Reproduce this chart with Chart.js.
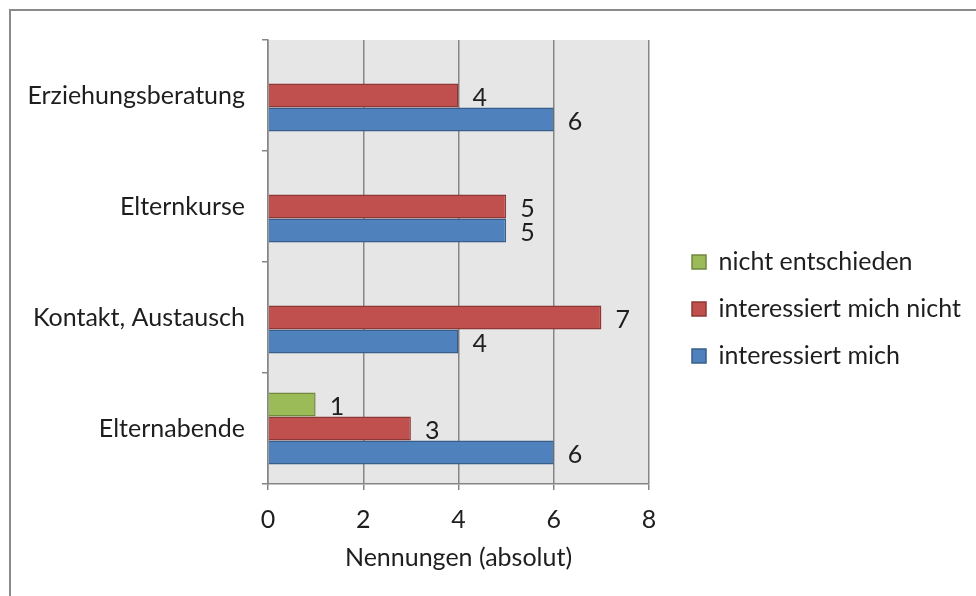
<!DOCTYPE html>
<html>
<head>
<meta charset="utf-8">
<script src="https://cdn.jsdelivr.net/npm/chart.js@4.4.1/dist/chart.umd.min.js"></script>
<style>
  html, body { margin: 0; padding: 0; background: #fff; overflow: hidden; }
  #wrap { position: relative; width: 976px; height: 596px; }
  #frame { position: absolute; left: 9px; top: 9px; width: 1000px; height: 640px;
           border-left: 2px solid #8a8a8a; border-top: 2px solid #8a8a8a; }
  canvas { position: absolute; left: 0; top: 0; }
</style>
</head>
<body>
<div id="wrap">
  <div id="frame"></div>
  <canvas id="chart" width="976" height="596"></canvas>
</div>
<script>
// Kategorien und Werte (von oben nach unten)
const categories = ['Erziehungsberatung', 'Elternkurse', 'Kontakt, Austausch', 'Elternabende'];
const nichtEntschieden = [null, null, null, 1];
const interessiertNicht = [4, 5, 7, 3];
const interessiert = [6, 5, 4, 6];
const seriesNames = ['nicht entschieden', 'interessiert mich nicht', 'interessiert mich'];
const xMax = 8;
const xStep = 2;
const axisTitle = 'Nennungen (absolut)';

const FONT = { family: 'Lato', size: 25 };
const GRID = '#868686';
const TEXT = '#1e1e1e';
const LEGEND_W = 327;

// grauer Hintergrund im Plotbereich
const plotBg = {
  id: 'plotBg',
  beforeDraw(chart) {
    const { ctx, chartArea: a } = chart;
    ctx.save();
    ctx.fillStyle = '#e6e6e6';
    ctx.fillRect(a.left, a.top, a.right - a.left, a.bottom - a.top);
    ctx.restore();
  }
};

// Legende breiter als das Standard-Limit, etwas nach rechts gerückt
const legendWidth = {
  id: 'legendWidth',
  beforeLayout(chart) {
    const lg = chart.legend;
    if (!lg || lg._fixedWidth) return;
    const fit = lg.fit;
    lg.fit = function () { fit.call(this); this.width = LEGEND_W; };
    lg._fixedWidth = true;
  },
  afterLayout(chart) {
    const lg = chart.legend;
    if (!lg) return;
    lg.left += 21;
    lg.right += 21;
    lg.top -= 3;
    lg.bottom -= 3;
  }
};

// Werte rechts neben den Balken
const valueLabels = {
  id: 'valueLabels',
  afterDatasetsDraw(chart) {
    const ctx = chart.ctx;
    ctx.save();
    ctx.font = FONT.size + 'px ' + FONT.family;
    ctx.fillStyle = TEXT;
    ctx.textAlign = 'left';
    ctx.textBaseline = 'middle';
    chart.data.datasets.forEach((ds, i) => {
      chart.getDatasetMeta(i).data.forEach((bar, j) => {
        const v = ds.data[j];
        if (v == null) return;
        ctx.fillText(String(v), bar.x + 14, bar.y + 2);
      });
    });
    ctx.restore();
  }
};

function draw() {
  new Chart(document.getElementById('chart'), {
    type: 'bar',
    data: {
      labels: categories,
      datasets: [
        { label: seriesNames[0], data: nichtEntschieden, backgroundColor: '#9bbb59', borderColor: '#71893f', borderWidth: 1.5 },
        { label: seriesNames[1], data: interessiertNicht, backgroundColor: '#c0504d', borderColor: '#8c3836', borderWidth: 1.5 },
        { label: seriesNames[2], data: interessiert, backgroundColor: '#4f81bd', borderColor: '#385d8a', borderWidth: 1.5 },
      ],
    },
    options: {
      indexAxis: 'y',
      responsive: false,
      animation: false,
      devicePixelRatio: 1,
      categoryPercentage: 0.65,
      barPercentage: 1,
      layout: { padding: { top: 40, right: 0, bottom: 12, left: 0 } },
      plugins: {
        tooltip: { enabled: false },
        legend: {
          position: 'right',
          labels: { font: FONT, color: TEXT, boxWidth: 14, boxHeight: 14, padding: 22 },
        },
      },
      scales: {
        x: {
          min: 0, max: xMax,
          ticks: { stepSize: xStep, font: FONT, color: TEXT, padding: 15 },
          grid: { color: GRID, lineWidth: 1.5, tickLength: 6 },
          border: { color: GRID, width: 1.5 },
          title: { display: true, text: axisTitle, font: FONT, color: TEXT, padding: { top: 8, bottom: 11 } },
          afterFit: s => { s.height = 100; },
        },
        y: {
          ticks: { font: FONT, color: TEXT, padding: 17 },
          grid: { drawOnChartArea: false, color: GRID, lineWidth: 1.5, tickLength: 6, offset: true },
          border: { color: GRID, width: 1.5 },
          afterFit: s => { s.width = 268; },
        },
      },
    },
    plugins: [plotBg, legendWidth, valueLabels],
  });
}

document.fonts.load('25px Lato').then(draw, draw);
</script>
</body>
</html>
